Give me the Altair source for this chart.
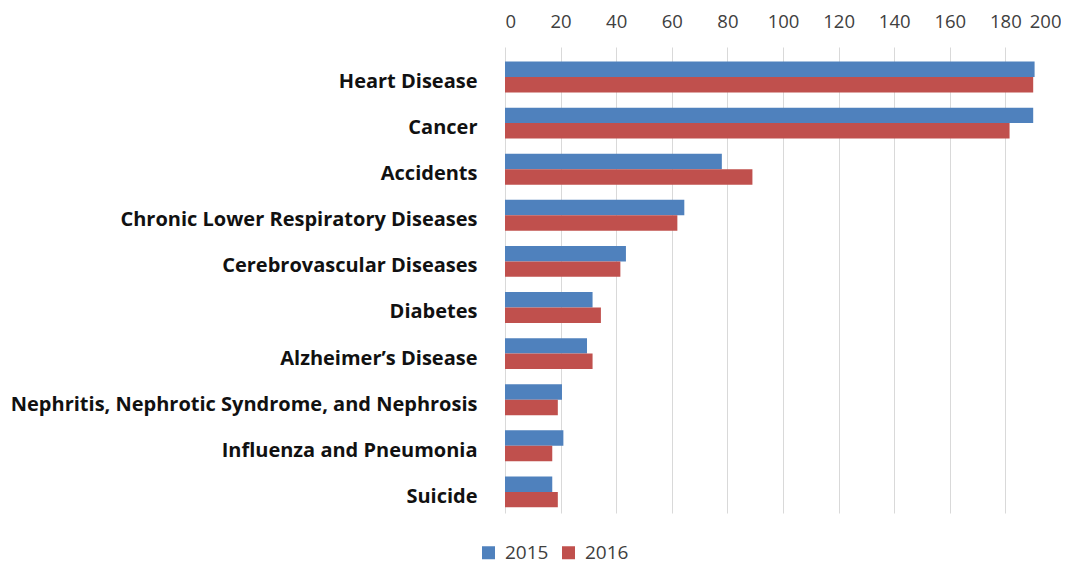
import altair as alt
import pandas as pd

categories = [
    "Heart Disease",
    "Cancer",
    "Accidents",
    "Chronic Lower Respiratory Diseases",
    "Cerebrovascular Diseases",
    "Diabetes",
    "Alzheimer\u2019s Disease",
    "Nephritis, Nephrotic Syndrome, and Nephrosis",
    "Influenza and Pneumonia",
    "Suicide",
]
values_2015 = [190.5, 190.0, 78.0, 64.5, 43.5, 31.5, 29.5, 20.5, 21.0, 17.0]
values_2016 = [190.0, 181.5, 89.0, 62.0, 41.5, 34.5, 31.5, 19.0, 17.0, 19.0]
years = ["2015", "2016"]
x_ticks = [0, 20, 40, 60, 80, 100, 120, 140, 160, 180, 200]

rows = []
for c, a, b in zip(categories, values_2015, values_2016):
    rows.append({"cause": c, "year": years[0], "rate": a})
    rows.append({"cause": c, "year": years[1], "rate": b})
df = pd.DataFrame(rows)

FONT = "Open Sans"

chart = (
    alt.Chart(df)
    .mark_bar()
    .encode(
        y=alt.Y(
            "cause:N",
            sort=categories,
            title=None,
            scale=alt.Scale(paddingInner=0.33, paddingOuter=0.219, align=0.72),
            axis=alt.Axis(
                ticks=False,
                domain=False,
                labelFont=FONT,
                labelFontSize=20,
                labelFontWeight="bold",
                labelColor="#111111",
                labelPadding=28,
                labelOffset=5,
                labelLimit=700,
            ),
        ),
        yOffset=alt.YOffset("year:N", sort=years),
        x=alt.X(
            "rate:Q",
            title=None,
            scale=alt.Scale(domain=[0, 200], nice=False),
            axis=alt.Axis(
                orient="top",
                values=x_ticks,
                ticks=False,
                domain=False,
                grid=True,
                gridColor="#d9d9d9",
                labelFont=FONT,
                labelFontSize=18.5,
                labelColor="#404040",
                labelPadding=16,
            ),
        ),
        color=alt.Color(
            "year:N",
            sort=years,
            scale=alt.Scale(domain=years, range=["#4F81BD", "#C0504D"]),
            legend=alt.Legend(
                title=None,
                orient="none",
                direction="horizontal",
                legendX=-26,
                legendY=496,
                symbolType="square",
                symbolSize=169,
                symbolStrokeWidth=0,
                labelFont=FONT,
                labelFontSize=19,
                labelColor="#404040",
                columnPadding=10,
                labelOffset=7,
            ),
        ),
    )
    .properties(width=556, height=466, padding={"left": 2, "top": 4, "right": 0, "bottom": 6})
    .configure_view(stroke=None)
)

chart.save("out.html", embed_options={"renderer": "svg", "actions": False})
